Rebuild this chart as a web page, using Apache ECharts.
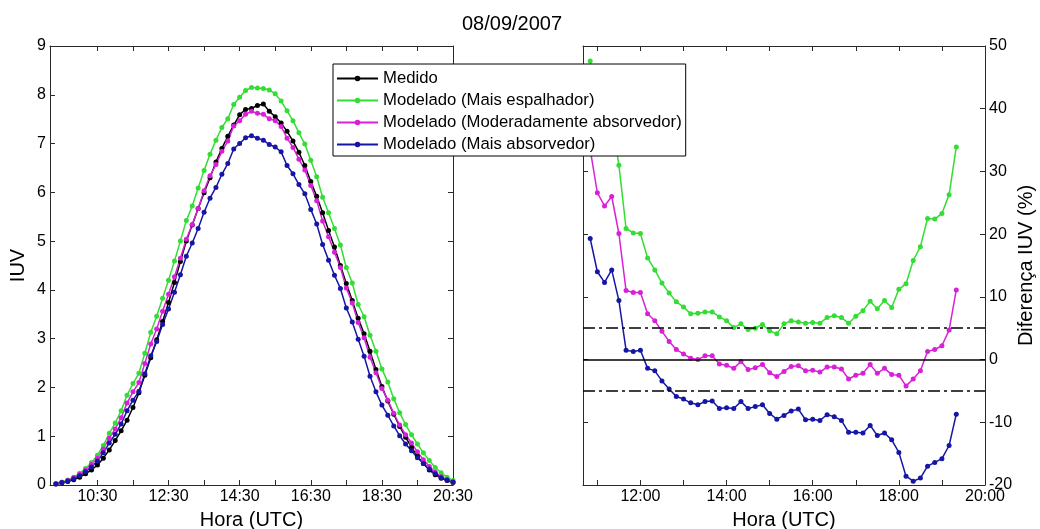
<!DOCTYPE html>
<html>
<head>
<meta charset="utf-8">
<script src="https://cdn.jsdelivr.net/npm/echarts@6/dist/echarts.min.js"></script>
<style>
html,body{margin:0;padding:0;background:#fff;}
#chart{width:1040px;height:529px;}
</style>
</head>
<body>
<div id="chart"></div>
<script>
// ---- data ----
const titleText = '08/09/2007';
const seriesNames = ['Medido', 'Modelado (Mais espalhador)', 'Modelado (Moderadamente absorvedor)', 'Modelado (Mais absorvedor)'];

const times = ['09:20','09:30','09:40','09:50','10:00','10:10','10:20','10:30','10:40','10:50',
 '11:00','11:10','11:20','11:30','11:40','11:50','12:00','12:10','12:20','12:30',
 '12:40','12:50','13:00','13:10','13:20','13:30','13:40','13:50','14:00','14:10',
 '14:20','14:30','14:40','14:50','15:00','15:10','15:20','15:30','15:40','15:50',
 '16:00','16:10','16:20','16:30','16:40','16:50','17:00','17:10','17:20','17:30',
 '17:40','17:50','18:00','18:10','18:20','18:30','18:40','18:50','19:00','19:10',
 '19:20','19:30','19:40','19:50','20:00','20:10','20:20','20:30'];

const medido = [0.02,0.04,0.07,0.11,0.16,0.23,0.31,0.41,0.55,0.72,
 0.91,1.11,1.33,1.59,1.89,2.25,2.61,2.98,3.35,3.74,
 4.15,4.58,5.00,5.33,5.67,5.99,6.30,6.62,6.90,7.15,
 7.38,7.59,7.70,7.72,7.78,7.81,7.66,7.55,7.42,7.25,
 7.05,6.82,6.55,6.22,5.92,5.58,5.22,4.88,4.50,4.13,
 3.78,3.42,3.10,2.74,2.37,2.02,1.72,1.45,1.20,0.98,
 0.77,0.59,0.44,0.31,0.21,0.14,0.09,0.05];

const espalhador = [0.03,0.06,0.10,0.16,0.24,0.34,0.46,0.61,0.81,1.06,
 1.27,1.52,1.84,2.08,2.29,2.70,3.13,3.46,3.83,4.20,
 4.59,5.00,5.42,5.72,6.09,6.45,6.78,7.07,7.33,7.51,
 7.80,7.95,8.09,8.15,8.14,8.13,8.10,8.02,7.87,7.67,
 7.47,7.22,6.99,6.66,6.32,5.90,5.58,5.26,4.92,4.46,
 4.14,3.70,3.45,3.07,2.74,2.38,2.11,1.77,1.48,1.24,
 1.03,0.84,0.66,0.50,0.36,0.25,0.16,0.09];

const moderado = [0.03,0.05,0.09,0.15,0.22,0.31,0.42,0.55,0.74,0.96,
 1.15,1.38,1.68,1.91,2.10,2.49,2.89,3.20,3.56,3.91,
 4.27,4.65,5.04,5.34,5.67,6.03,6.34,6.57,6.84,7.05,
 7.36,7.47,7.60,7.66,7.62,7.60,7.51,7.47,7.35,7.11,
 6.92,6.68,6.46,6.14,5.83,5.41,5.09,4.77,4.46,4.04,
 3.73,3.33,3.02,2.62,2.30,1.98,1.74,1.47,1.23,1.03,
 0.86,0.68,0.52,0.38,0.26,0.17,0.11,0.06];

const absorvedor = [0.02,0.05,0.08,0.13,0.19,0.27,0.37,0.49,0.66,0.86,
 1.04,1.25,1.52,1.74,1.92,2.28,2.65,2.94,3.29,3.61,
 3.95,4.31,4.69,4.96,5.26,5.59,5.88,6.10,6.37,6.59,
 6.89,7.00,7.12,7.16,7.11,7.07,6.98,6.93,6.83,6.55,
 6.38,6.16,5.97,5.65,5.35,4.93,4.61,4.30,4.03,3.63,
 3.34,2.99,2.64,2.23,1.91,1.64,1.43,1.21,1.01,0.84,
 0.70,0.56,0.44,0.33,0.23,0.15,0.10,0.06];

const diffTimes = ['10:50','11:00','11:10','11:20','11:30','11:40','11:50','12:00','12:10','12:20',
 '12:30','12:40','12:50','13:00','13:10','13:20','13:30','13:40','13:50','14:00',
 '14:10','14:20','14:30','14:40','14:50','15:00','15:10','15:20','15:30','15:40',
 '15:50','16:00','16:10','16:20','16:30','16:40','16:50','17:00','17:10','17:20',
 '17:30','17:40','17:50','18:00','18:10','18:20','18:30','18:40','18:50','19:00',
 '19:10','19:20'];

const difEspalhador = [47.6,40.0,37.0,38.5,31.0,20.9,20.2,20.1,16.2,14.3,
 12.2,10.6,9.2,8.4,7.3,7.4,7.6,7.6,6.8,6.2,
 5.1,5.7,4.8,5.0,5.6,4.6,4.1,5.7,6.2,6.0,
 5.8,5.9,5.8,6.7,7.0,6.7,5.8,6.9,7.8,9.3,
 8.1,9.4,8.3,11.2,12.1,15.8,18.0,22.5,22.4,23.3,
 26.3,33.9];

const difModerado = [33.5,26.6,24.5,26.0,20.1,11.0,10.7,10.7,7.3,6.2,
 4.5,2.9,1.6,0.9,0.2,0.0,0.6,0.6,-0.7,-0.9,
 -1.4,-0.3,-1.6,-1.3,-0.8,-2.1,-2.7,-1.9,-1.1,-1.0,
 -1.8,-1.7,-2.0,-1.2,-1.2,-1.5,-3.1,-2.5,-2.2,-0.8,
 -2.2,-1.4,-2.4,-2.5,-4.2,-3.1,-1.8,1.3,1.6,2.2,
 4.7,11.1];

const difAbsorvedor = [19.3,14.0,12.3,14.3,9.4,1.5,1.3,1.5,-1.4,-1.8,
 -3.4,-4.7,-5.9,-6.3,-6.9,-7.2,-6.7,-6.6,-7.8,-7.7,
 -7.8,-6.7,-7.8,-7.5,-7.2,-8.6,-9.5,-8.9,-8.2,-7.9,
 -9.6,-9.5,-9.7,-8.8,-9.1,-9.7,-11.6,-11.6,-11.7,-10.5,
 -12.1,-11.7,-12.8,-14.8,-18.6,-19.4,-18.9,-17.0,-16.4,-15.8,
 -13.7,-8.7];

// axis ranges and tick labels
const leftRange = ['09:10', '20:30'];
const leftTicks = ['10:30','11:30','12:30','13:30','14:30','15:30','16:30','17:30','18:30','19:30','20:30'];
const leftLabels = ['10:30','12:30','14:30','16:30','18:30','20:30'];
const rightRange = ['10:40', '20:00'];
const rightTicks = ['11:00','12:00','13:00','14:00','15:00','16:00','17:00','18:00','19:00','20:00'];
const rightLabels = ['12:00','14:00','16:00','18:00','20:00'];
const refLevels = [0, 5, -5];

// ---- helpers ----
function hm(s){ const p = s.split(':'); return Number(p[0]) + Number(p[1]) / 60; }
function fmt(v){
  let h = Math.floor(v + 1e-6); let m = Math.round((v - h) * 60);
  if (m === 60) { h += 1; m = 0; }
  return String(h).padStart(2,'0') + ':' + String(m).padStart(2,'0');
}
function pairs(ts, vs){ return ts.map((t, i) => [hm(t), vs[i]]); }

const colors = ['#000000', '#33dd33', '#d820d8', '#1616a6'];
const FONT = 'Liberation Sans, Arial, sans-serif';
const axisColor = '#2a2a2a';

function xAx(grid, range, ticks, labels, pos, showLabels, name){
  return {
    type: 'value', gridIndex: grid, position: pos,
    min: hm(range[0]), max: hm(range[1]),
    name: name || '', nameLocation: 'middle', nameGap: 25,
    nameTextStyle: {fontSize: 20, fontFamily: FONT, color: '#000'},
    axisLine: {show: true, onZero: false, lineStyle: {color: axisColor, width: 1}},
    axisTick: {show: true, inside: true, length: 5, customValues: ticks.map(hm), lineStyle: {color: axisColor}},
    axisLabel: {show: showLabels, customValues: labels.map(hm), formatter: fmt, fontSize: 16, fontFamily: FONT, color: '#000', margin: 4},
    splitLine: {show: false}
  };
}
function yAx(grid, min, max, interval, pos, showLabels, name, nameGap){
  return {
    type: 'value', gridIndex: grid, position: pos, min: min, max: max, interval: interval,
    name: name || '', nameLocation: 'middle', nameGap: nameGap || 30, nameRotate: 90,
    nameTextStyle: {fontSize: 20, fontFamily: FONT, color: '#000'},
    axisLine: {show: true, onZero: false, lineStyle: {color: axisColor, width: 1}},
    axisTick: {show: true, inside: true, length: 5, lineStyle: {color: axisColor}},
    axisLabel: {show: showLabels, fontSize: 16, fontFamily: FONT, color: '#000', margin: 4},
    splitLine: {show: false}
  };
}

function lineSeries(name, color, data, xi, yi, extra){
  return Object.assign({
    name: name, type: 'line', xAxisIndex: xi, yAxisIndex: yi, data: data,
    symbol: 'circle', symbolSize: 5, showSymbol: true,
    lineStyle: {color: color, width: 1.5}, itemStyle: {color: color},
    animation: false, z: 3
  }, extra || {});
}

const chart = echarts.init(document.getElementById('chart'), null, {renderer: 'canvas'});

const option = {
  backgroundColor: '#ffffff',
  animation: false,
  title: {text: titleText, left: 457, top: 9, textStyle: {fontSize: 20, fontWeight: 'normal', fontFamily: FONT, color: '#000'}},
  legend: {
    data: seriesNames, orient: 'vertical', left: 333, top: 64,
    padding: [6, 4, 3, 3], itemWidth: 41, itemHeight: 7, itemGap: 5,
    backgroundColor: '#ffffff', borderColor: '#000', borderWidth: 1,
    textStyle: {fontSize: 16.7, fontFamily: FONT, color: '#000'}, z: 20
  },
  grid: [
    {left: 50, top: 46, width: 403, height: 439, outerBoundsMode: 'none', containLabel: false},
    {left: 583, top: 46, width: 402, height: 439, outerBoundsMode: 'none', containLabel: false}
  ],
  xAxis: [
    xAx(0, leftRange, leftTicks, leftLabels, 'bottom', true, 'Hora (UTC)'),
    xAx(1, rightRange, rightTicks, rightLabels, 'bottom', true, 'Hora (UTC)'),
    xAx(0, leftRange, leftTicks, leftLabels, 'top', false),
    xAx(1, rightRange, rightTicks, rightLabels, 'top', false)
  ],
  yAxis: [
    yAx(0, 0, 9, 1, 'left', true, 'IUV', 22),
    yAx(1, -20, 50, 10, 'right', true, 'Diferença IUV (%)', 30),
    yAx(0, 0, 9, 1, 'right', false),
    yAx(1, -20, 50, 10, 'left', false)
  ],
  series: [
    lineSeries(seriesNames[0], colors[0], pairs(times, medido), 0, 0),
    lineSeries(seriesNames[1], colors[1], pairs(times, espalhador), 0, 0),
    lineSeries(seriesNames[2], colors[2], pairs(times, moderado), 0, 0),
    lineSeries(seriesNames[3], colors[3], pairs(times, absorvedor), 0, 0),
    lineSeries(seriesNames[1], colors[1], pairs(diffTimes, difEspalhador), 1, 1, {
      markLine: {
        silent: true, symbol: 'none', label: {show: false}, animation: false,
        data: refLevels.map(v => ({yAxis: v, lineStyle: {color: '#000', width: 1.5, type: v === 0 ? 'solid' : [12, 4, 3, 4]}}))
      }
    }),
    lineSeries(seriesNames[2], colors[2], pairs(diffTimes, difModerado), 1, 1),
    lineSeries(seriesNames[3], colors[3], pairs(diffTimes, difAbsorvedor), 1, 1)
  ]
};
chart.setOption(option);
</script>
</body>
</html>
